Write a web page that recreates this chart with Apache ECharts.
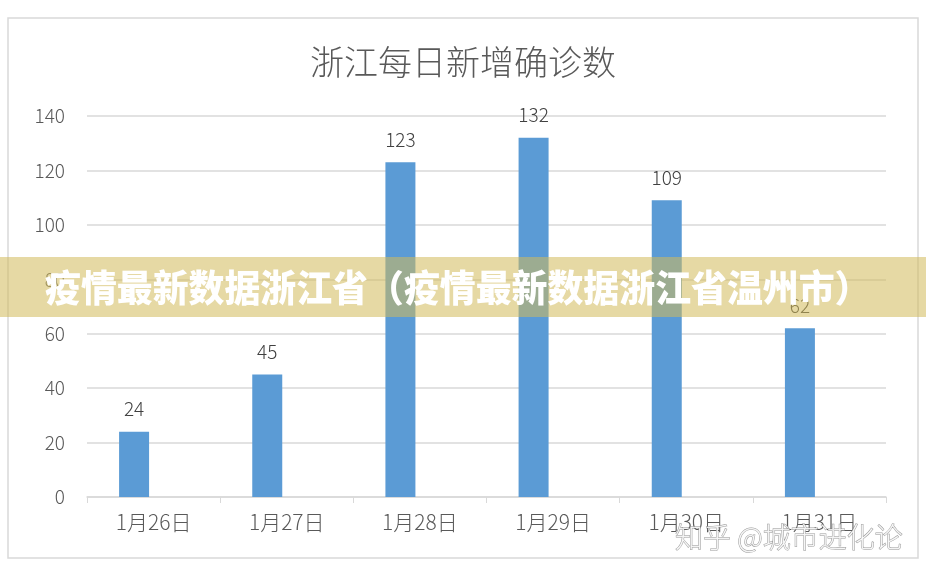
<!DOCTYPE html>
<html><head><meta charset="utf-8">
<script src="https://cdn.jsdelivr.net/npm/echarts@6/dist/echarts.min.js"></script>
<style>html,body{margin:0;padding:0;background:#fff}#c{width:926px;height:574px}</style>
</head><body><div id="c"></div>
<script>
var categories = ['1月26日','1月27日','1月28日','1月29日','1月30日','1月31日'];
var values = [24, 45, 123, 132, 109, 62];
var emptySeries = [null, null, null, null, null, null];
var yTicks = [0, 20, 40, 60, 80, 100, 120, 140];
var titleText = '浙江每日新增确诊数';
var bannerText = '疫情最新数据浙江省（疫情最新数据浙江省温州市）';
var watermarkText = '知乎 @城市进化论';

var font = '"Noto Sans CJK SC", "Noto Sans", sans-serif';
var chart = echarts.init(document.getElementById('c'));
chart.setOption({
  backgroundColor: '#ffffff',
  animation: false,
  title: {
    text: titleText, left: 'center', top: 40,
    textStyle: {fontFamily: font, fontSize: 34, fontWeight: 300, color: '#595959'}
  },
  grid: {left: 87, right: 40, top: 116, bottom: 77},
  xAxis: {
    type: 'category', data: categories,
    axisLine: {lineStyle: {color: '#d9d9d9', width: 1.5}},
    axisTick: {show: true, length: 6, lineStyle: {color: '#d9d9d9'}},
    axisLabel: {fontFamily: font, fontSize: 21, fontWeight: 300, color: '#595959', margin: 15}
  },
  yAxis: {
    type: 'value', min: yTicks[0], max: yTicks[yTicks.length - 1], interval: 20,
    axisLine: {show: false}, axisTick: {show: false},
    splitLine: {lineStyle: {color: '#d9d9d9', width: 1.5}},
    axisLabel: {fontFamily: font, fontSize: 19, fontWeight: 300, color: '#595959', margin: 22}
  },
  series: [{
    type: 'bar', data: values, barWidth: 30, barGap: '30%',
    itemStyle: {color: '#5b9bd5'},
    label: {show: true, position: 'top', distance: 13, fontFamily: font, fontSize: 19, fontWeight: 300, color: '#404040'}
  }, {
    type: 'bar', data: emptySeries, barWidth: 30, barGap: '30%',
    itemStyle: {color: '#ed7d31'}
  }],
  graphic: [
    {type: 'rect', shape: {x: 8, y: 18, width: 910, height: 540}, style: {fill: 'none', stroke: '#d9d9d9', lineWidth: 1.5}, z: 0},
    {type: 'rect', shape: {x: 0, y: 257, width: 926, height: 60}, style: {fill: 'rgba(210,185,90,0.55)'}, z: 100},
    {type: 'text', x: 45, y: 288, scaleX: 0.97, style: {text: bannerText, fill: '#ffffff', font: '900 37px "Noto Sans CJK SC"', textVerticalAlign: 'middle', shadowColor: 'rgba(0,0,0,0.2)', shadowBlur: 2}, z: 101},
    {type: 'text', x: 675, y: 537, style: {text: watermarkText, fill: 'rgba(255,255,255,0.85)', stroke: 'rgba(110,110,110,0.7)', lineWidth: 1, font: '300 28px "Noto Sans CJK SC"', textVerticalAlign: 'middle'}, z: 101}
  ]
});
</script></body></html>
